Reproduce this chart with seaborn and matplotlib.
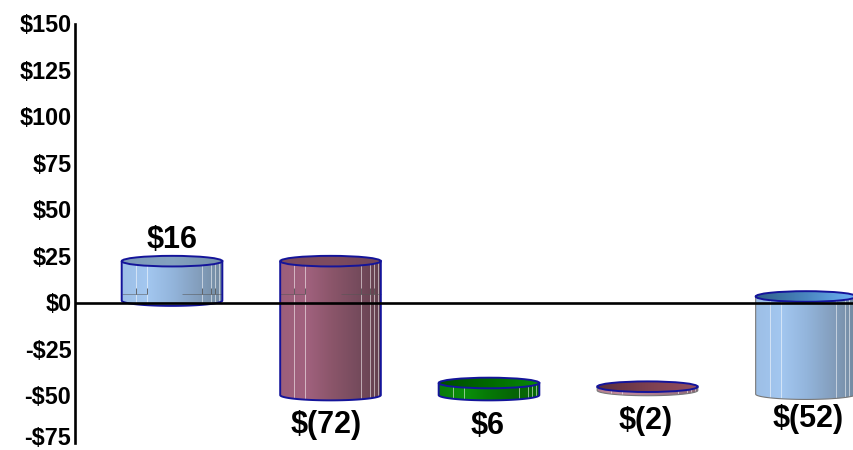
import numpy as np
import pandas as pd
import matplotlib
matplotlib.use("Agg")
import matplotlib.pyplot as plt
import seaborn as sns
from matplotlib.colors import LinearSegmentedColormap
from matplotlib.patches import Ellipse, PathPatch
from matplotlib.path import Path
from matplotlib.transforms import ScaledTranslation

# values (floating bars)
items = ["A", "B", "C", "D", "E"]
bar_tops = [22.5, 22.5, -43, -45, 3.5]
bar_bottoms = [1.3, -49.5, -49.5, -47, -49]
bar_labels = ["$16", "$(72)", "$6", "$(2)", "$(52)"]
y_ticks = [150, 125, 100, 75, 50, 25, 0, -25, -50, -75]
y_tick_labels = ["$150", "$125", "$100", "$75", "$50", "$25", "$0", "-$25", "-$50", "-$75"]

# side gradient, top gradient, outline of the side, per bar
blue_side = ["#9dbfe6", "#a3c7f0", "#93b5dc", "#849fbe", "#72899f"]
maroon_side = ["#9c5f7a", "#a2627f", "#8c566b", "#784c5e", "#63404e"]
green_side = ["#0a7a0a", "#0a900a", "#067806", "#056405", "#0a6a0a"]
pale_side = ["#b5808f", "#c08a9c", "#b07f90", "#a07585", "#8a6575"]
side_colors = [blue_side, maroon_side, green_side, pale_side, blue_side]
top_colors = [
    ["#7d9ab8", "#84a2c0", "#7590aa"],
    ["#7a4a5e", "#7e4c60", "#70465a"],
    ["#004c00", "#006a00", "#0a8a0a"],
    ["#5a2e3c", "#7c4050", "#94505f"],
    ["#2f5f8a", "#4a86c0", "#70b4f8"],
]
side_edges = ["#14149a", "#14149a", "#14149a", "#777777", "#777777"]
side_widths = [1.4, 1.4, 1.4, 0.8, 0.8]
streaks = [0.14, 0.25, 0.8, 0.89, 0.93, 0.97]
label_offsets = [(0, 21), (-4, -30), (-1, -31), (-2, -31), (2, -25)]

sns.set_style("white")
plt.rcParams["font.family"] = ["Liberation Sans", "DejaVu Sans"]

df = pd.DataFrame({"item": items, "height": np.array(bar_tops) - np.array(bar_bottoms)})

fig = plt.figure(figsize=(8.54, 4.5), dpi=100)
ax = fig.add_axes([75.5 / 854, 7.5 / 450, (854 - 75.5) / 854, 418.5 / 450])
ax.patch.set_alpha(0)

sns.barplot(
    data=df, x="item", y="height", bottom=bar_bottoms, order=items,
    width=0.635, color="white", errorbar=None, ax=ax,
)

top_half = 2.85  # half height of the ellipse, in dollars
for i, bar in enumerate(list(ax.patches)):
    x0, x1 = bar.get_x(), bar.get_x() + bar.get_width()
    cx, half = (x0 + x1) / 2, (x1 - x0) / 2
    top, bottom = bar_tops[i], bar_bottoms[i]
    bar.set_visible(False)

    # cylinder body
    t = np.linspace(np.pi, 2 * np.pi, 60)
    arc = np.column_stack([cx + half * np.cos(t), bottom + top_half * np.sin(t)])
    body = Path(np.vstack([[x0, top], arc, [x1, top], [x0, top]]))
    cmap = LinearSegmentedColormap.from_list("side", side_colors[i])
    im = ax.imshow(
        np.linspace(0, 1, 256)[None, :], cmap=cmap, aspect="auto", zorder=2,
        extent=[x0, x1, bottom - top_half, top + top_half],
    )
    outline = PathPatch(body, fc="none", ec=side_edges[i], lw=side_widths[i], zorder=3)
    ax.add_patch(outline)
    im.set_clip_path(outline)

    # thin light streaks on the side
    lines = ax.vlines(
        [x0 + f * (x1 - x0) for f in streaks], bottom - top_half, top,
        color="white", lw=0.7, alpha=0.55, zorder=2.5,
    )
    lines.set_clip_path(outline)

    # faint marks on the two front bars
    if i < 2:
        ax.hlines([5, 5], [x0, x0 + 0.6 * (x1 - x0)], [x0 + 0.25 * (x1 - x0), x1],
                  color="#555555", lw=0.6, alpha=0.6, zorder=2.6)
        ax.vlines([x0 + f * (x1 - x0) for f in streaks[:5]], 5, 8,
                  color="#333333", lw=0.7, alpha=0.7, zorder=2.6)

    # lid
    lid = Ellipse((cx, top), 2 * half, 2 * top_half, fc="none", ec="#14149a", lw=1.4, zorder=5)
    ax.add_patch(lid)
    cmap = LinearSegmentedColormap.from_list("top", top_colors[i])
    im = ax.imshow(
        np.linspace(0, 1, 256)[None, :], cmap=cmap, aspect="auto", zorder=4,
        extent=[x0, x1, top - top_half, top + top_half],
    )
    im.set_clip_path(lid)

    # value label
    dx, dy = label_offsets[i]
    anchor = top if i == 0 else bottom
    ax.annotate(
        bar_labels[i], (cx, anchor), xytext=(dx * 0.72, dy * 0.72), textcoords="offset points",
        ha="center", va="center", fontsize=22, fontweight="bold", color="black",
        zorder=8, annotation_clip=False,
    )

ax.set_xlim(-0.609, 4.303)
ax.set_ylim(-75, 150)

ax.axhline(0, color="black", lw=1.9, zorder=6)

ax.set_xlabel("")
ax.set_ylabel("")
ax.set_xticks([])
ax.set_yticks(y_ticks)
ax.set_yticklabels(y_tick_labels, fontsize=16.8, fontweight="bold", color="black")
ax.tick_params(axis="y", length=0, pad=3)

# tick labels sit a touch higher, the last one more so it stays in the picture
tick_labels = ax.get_yticklabels()
for lab in tick_labels:
    up = 4.5 if lab is tick_labels[-1] else 0.5
    lab.set_transform(lab.get_transform() + ScaledTranslation(0, up / 72, fig.dpi_scale_trans))

sns.despine(ax=ax, top=True, right=True, bottom=True)
ax.spines["left"].set_linewidth(1.9)
ax.spines["left"].set_color("black")

fig.savefig("out.png", dpi=100)
